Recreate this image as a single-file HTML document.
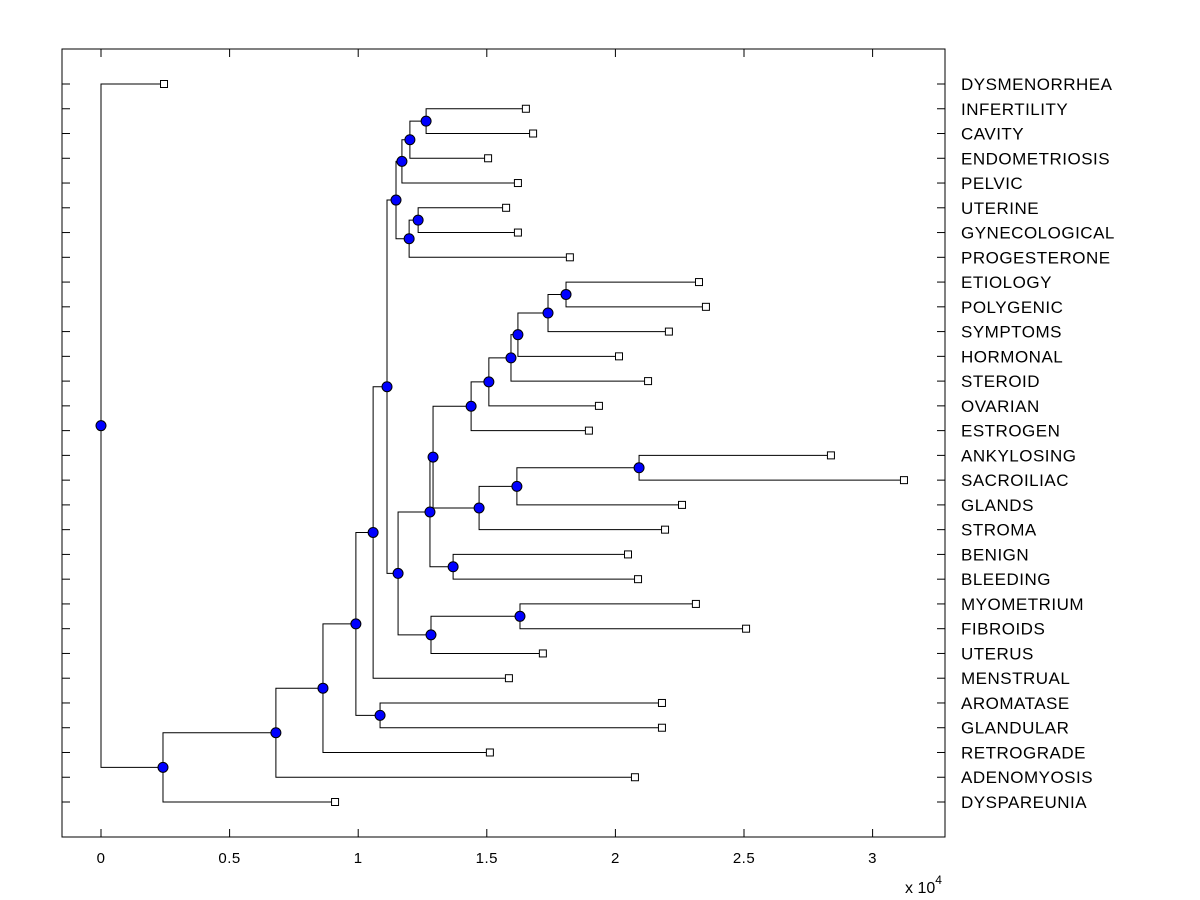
<!DOCTYPE html>
<html><head><meta charset="utf-8"><style>
body{margin:0;background:#fff;}
svg{display:block;font-family:"Liberation Sans",Arial,sans-serif;}
</style></head><body>
<svg id="chart" width="1200" height="900" viewBox="0 0 1200 900">
<rect x="0" y="0" width="1200" height="900" fill="#fff"/>
<g id="marks"></g>
</svg>
<script>
const leafLabels=["DYSMENORRHEA","INFERTILITY","CAVITY","ENDOMETRIOSIS","PELVIC","UTERINE","GYNECOLOGICAL","PROGESTERONE","ETIOLOGY","POLYGENIC","SYMPTOMS","HORMONAL","STEROID","OVARIAN","ESTROGEN","ANKYLOSING","SACROILIAC","GLANDS","STROMA","BENIGN","BLEEDING","MYOMETRIUM","FIBROIDS","UTERUS","MENSTRUAL","AROMATASE","GLANDULAR","RETROGRADE","ADENOMYOSIS","DYSPAREUNIA"];
const leafValues=[0.245,1.652,1.680,1.505,1.621,1.575,1.621,1.823,2.325,2.352,2.208,2.014,2.127,1.936,1.897,2.838,3.122,2.259,2.193,2.049,2.088,2.313,2.508,1.718,1.586,2.181,2.181,1.512,2.076,0.910];
const nodeNames=["A","B","C","D","E","F","G","H","I","K","M","N","L","O","J","Q","R","P","T","S","U","W","X","Y","Z","AA","V","AB","AC"];
const nodeValues=[0,0.241,0.680,0.863,0.991,1.058,1.085,1.112,1.147,1.170,1.201,1.264,1.198,1.233,1.155,1.283,1.629,1.279,1.369,1.291,1.439,1.508,1.594,1.621,1.738,1.808,1.470,1.617,2.092];
// children: numbers = leaf index, strings = node name
const nodeLeft=[0,"C","D","E","F","H","25","I","K","M","N","1","O","5","P","R","21","S","19","U","W","X","Y","Z","AA","8","AB","AC","15"];
const nodeRight=["B",29,28,27,"G",24,26,"J","L",4,3,2,7,6,"Q",23,22,"T",20,"V",14,13,12,11,10,9,18,17,16];
const xTicks=[0,0.5,1,1.5,2,2.5,3];
const xTickLabels=["0","0.5","1","1.5","2","2.5","3"];

const L=62,R=945,T=49,B=837;
const X=v=>101+v*257.2;
const rowY=i=>84+i*(802-84)/29;
const NS="http://www.w3.org/2000/svg";
const g=document.getElementById('marks');
function mk(tag,attrs,parent){const e=document.createElementNS(NS,tag);for(const k in attrs)e.setAttribute(k,attrs[k]);(parent||g).appendChild(e);return e;}

const idx={};nodeNames.forEach((n,i)=>idx[n]=i);
function ref(c){ if(typeof c==="string" && idx[c]!==undefined) return {node:idx[c]}; return {leaf:+c}; }
const ny={};
function yOf(r){ if(r.leaf!==undefined) return rowY(r.leaf); const i=r.node; if(ny[i]===undefined){ny[i]=(yOf(ref(nodeLeft[i]))+yOf(ref(nodeRight[i])))/2;} return ny[i]; }
function xOf(r){ return r.leaf!==undefined?X(leafValues[r.leaf]):X(nodeValues[r.node]); }

const box=mk('rect',{x:L,y:T,width:R-L,height:B-T,fill:'none',stroke:'#000','stroke-width':1});


xTicks.forEach((t,i)=>{
  const x=X(t);
  mk('line',{x1:x,y1:B,x2:x,y2:B-8,stroke:'#000'});
  mk('line',{x1:x,y1:T,x2:x,y2:T+8,stroke:'#000'});
  const tx=mk('text',{x:x,y:863,'text-anchor':'middle','font-size':15,'letter-spacing':0.5});
  tx.textContent=xTickLabels[i];
  
  
});
const ex=mk('text',{x:905,y:893,'font-size':16});
ex.innerHTML='x 10<tspan dy="-9" font-size="12">4</tspan>';


leafLabels.forEach((lab,i)=>{
  const y=rowY(i);
  mk('line',{x1:L,y1:y,x2:L+8,y2:y,stroke:'#000'});
  mk('line',{x1:R,y1:y,x2:R-8,y2:y,stroke:'#000'});
  const tx=mk('text',{x:961,y:y+6,'font-size':17,'letter-spacing':0.5});
  tx.textContent=lab;
  
  
});
const lines=mk('g',{stroke:'#000','stroke-width':1,fill:'none'});


nodeNames.forEach((n,i)=>{
  const x=X(nodeValues[i]);
  [nodeLeft[i],nodeRight[i]].forEach(c=>{
    const r=ref(c);
    mk('path',{d:`M${x},${yOf({node:i})}V${yOf(r)}H${xOf(r)}`},lines);
  });
});
leafValues.forEach((v,i)=>{
  const s=mk('rect',{x:X(v)-3.5,y:rowY(i)-3.5,width:7,height:7,fill:'#fff',stroke:'#000'});
  
  
});
nodeValues.forEach((v,i)=>{
  const c=mk('circle',{cx:X(v),cy:yOf({node:i}),r:5,fill:'#0000ff',stroke:'#000'});
  
  
});
</script>
</body></html>
